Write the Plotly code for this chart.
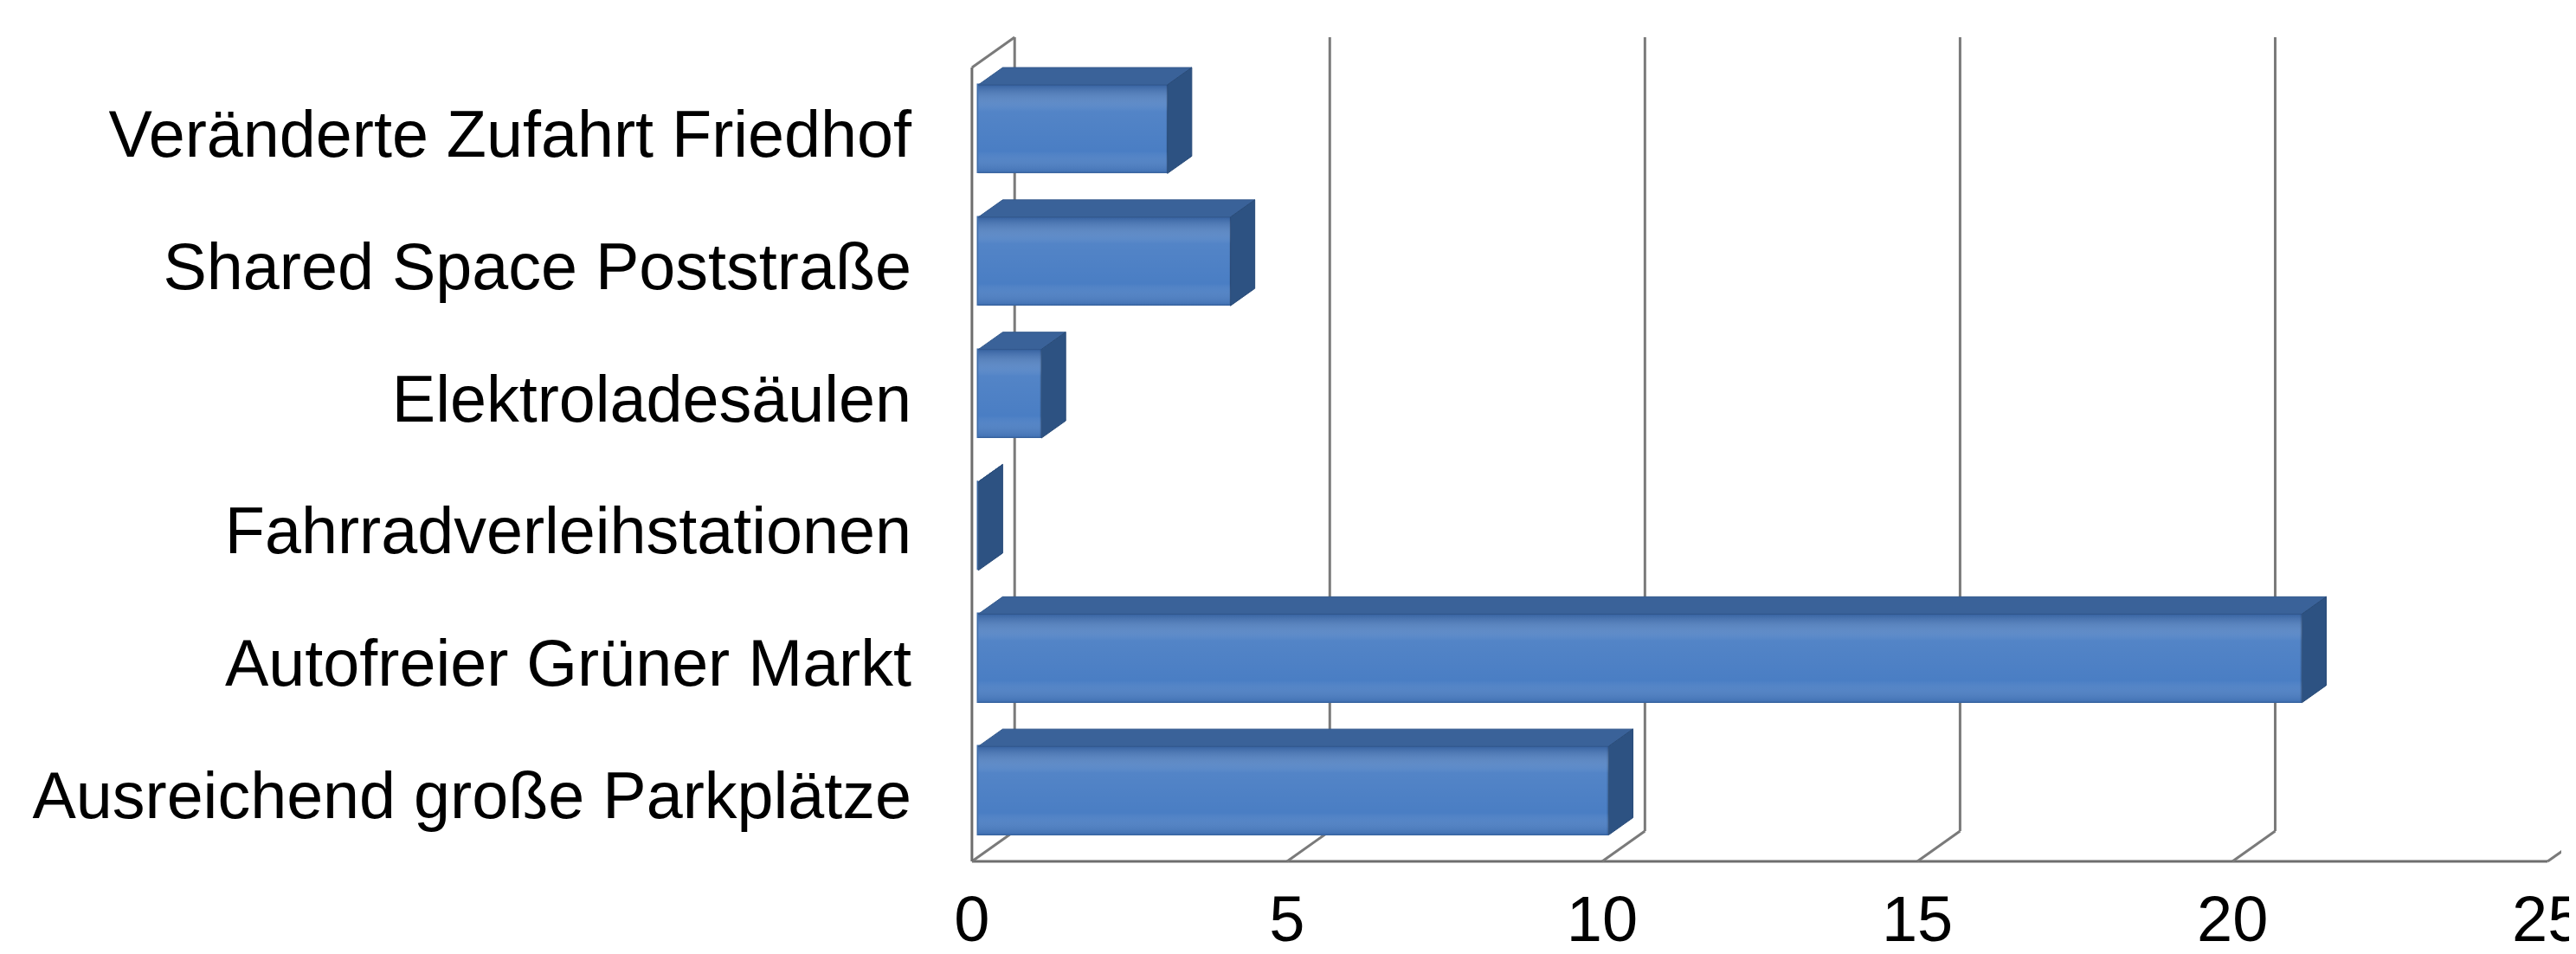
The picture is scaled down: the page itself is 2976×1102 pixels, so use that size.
import plotly.graph_objects as go

# ---------------- data ----------------
categories = [
    "Ausreichend große Parkplätze",
    "Autofreier Grüner Markt",
    "Fahrradverleihstationen",
    "Elektroladesäulen",
    "Shared Space Poststraße",
    "Veränderte Zufahrt Friedhof",
]
values = [10, 21, 0, 1, 4, 3]
x_ticks = [0, 5, 10, 15, 20, 25]

# ---------------- style / 3D geometry ----------------
W, H = 2976, 1102
PX_X = 73.8      # pixels per x unit
PX_Y = 152.8     # pixels per category
DX = 50 / PX_X   # depth offset along x (data units)
DY = 35 / PX_Y   # depth offset along y (category units)
F1, F2 = 0.15, 0.72   # bar front / back depth fractions
BAR_W = 0.67
GRID = "#7A7A7A"
FONT = "Liberation Sans, Arial, sans-serif"

pos = list(range(len(categories)))
n = len(categories)
ymin, ymax = -0.5, n - 0.5
xmax = x_ticks[-1]

fig = go.Figure()

def line(xs, ys, color=GRID, width=3, z=0):
    fig.add_trace(go.Scatter(x=xs, y=ys, mode="lines", line=dict(color=color, width=width),
                             hoverinfo="skip", showlegend=False, zorder=z))

# back wall gridlines
for t in x_ticks:
    line([t + DX, t + DX], [ymin + DY, ymax + DY])
# floor: front edge and diagonals
line([0, xmax], [ymin, ymin], color="#6E6E6E")
for t in x_ticks:
    line([t, t + DX], [ymin, ymin + DY])
# left wall
line([0, 0], [ymin, ymax], color="#6E6E6E")
line([0, DX], [ymax, ymax + DY])

# bars: front face via go.Bar
ddx = (F2 - F1) * DX
ddy = (F2 - F1) * DY
x0 = F1 * DX
ycent = [p + F1 * DY for p in pos]
fig.add_trace(go.Bar(
    orientation="h", y=ycent, x=values, base=x0, width=BAR_W,
    marker=dict(color="#4A7EC4", line=dict(color="#3D6BA8", width=1.5)),
    hoverinfo="skip", showlegend=False, zorder=1,
))

for yc, v in zip(ycent, values):
    yt = yc + BAR_W / 2
    yb = yc - BAR_W / 2
    xe = x0 + v
    # top face
    fig.add_trace(go.Scatter(
        x=[x0, xe, xe + ddx, x0 + ddx, x0], y=[yt, yt, yt + ddy, yt + ddy, yt],
        mode="lines", fill="toself", fillcolor="#3A6299", line=dict(color="#345A8D", width=1),
        hoverinfo="skip", showlegend=False, zorder=2))
    # side (end) face
    fig.add_trace(go.Scatter(
        x=[xe, xe, xe + ddx, xe + ddx, xe], y=[yt, yb, yb + ddy, yt + ddy, yt],
        mode="lines", fill="toself", fillcolor="#2D5282", line=dict(color="#294B78", width=1),
        hoverinfo="skip", showlegend=False, zorder=2))
    # shading overlay on front face
    if v > 0:
        fig.add_trace(go.Scatter(
            x=[x0, xe, xe, x0, x0], y=[yb, yb, yt, yt, yb],
            mode="none", fill="toself",
            fillgradient=dict(type="vertical", colorscale=[
                [0.0, "rgba(35,75,135,0.30)"],
                [0.25, "rgba(255,255,255,0.0)"],
                [0.7, "rgba(255,255,255,0.05)"],
                [1.0, "rgba(35,70,125,0.50)"],
            ]),
            hoverinfo="skip", showlegend=False, zorder=3))

# ---------------- layout ----------------
left_px, x0_px = 1105, 1115
top_px, bottom_px = 20, 990
floor_px, front_top_px = 987, 70

xr = [-(x0_px - left_px) / PX_X, (W - x0_px) / PX_X]
yr = [ymin - (bottom_px - floor_px) / PX_Y, ymax + (front_top_px - top_px) / PX_Y]

fig.update_layout(
    width=W, height=H,
    margin=dict(l=left_px, r=0, t=top_px, b=H - bottom_px),
    paper_bgcolor="white", plot_bgcolor="white",
    bargap=0, barmode="overlay",
    font=dict(family=FONT, size=75, color="black"),
    hovermode=False,
    xaxis=dict(range=xr, tickvals=x_ticks, ticktext=[str(t) for t in x_ticks],
               showgrid=False, zeroline=False, showline=False, ticks="",
               ticklabelstandoff=14, ticklabeloverflow="allow",
               tickfont=dict(size=74, family=FONT, color="black")),
    yaxis=dict(range=yr, tickvals=pos, ticktext=categories,
               showgrid=False, zeroline=False, showline=False, ticks="",
               ticklabelstandoff=59, tickfont=dict(size=75.5, family=FONT, color="black")),
)

fig.write_html("out.html")
